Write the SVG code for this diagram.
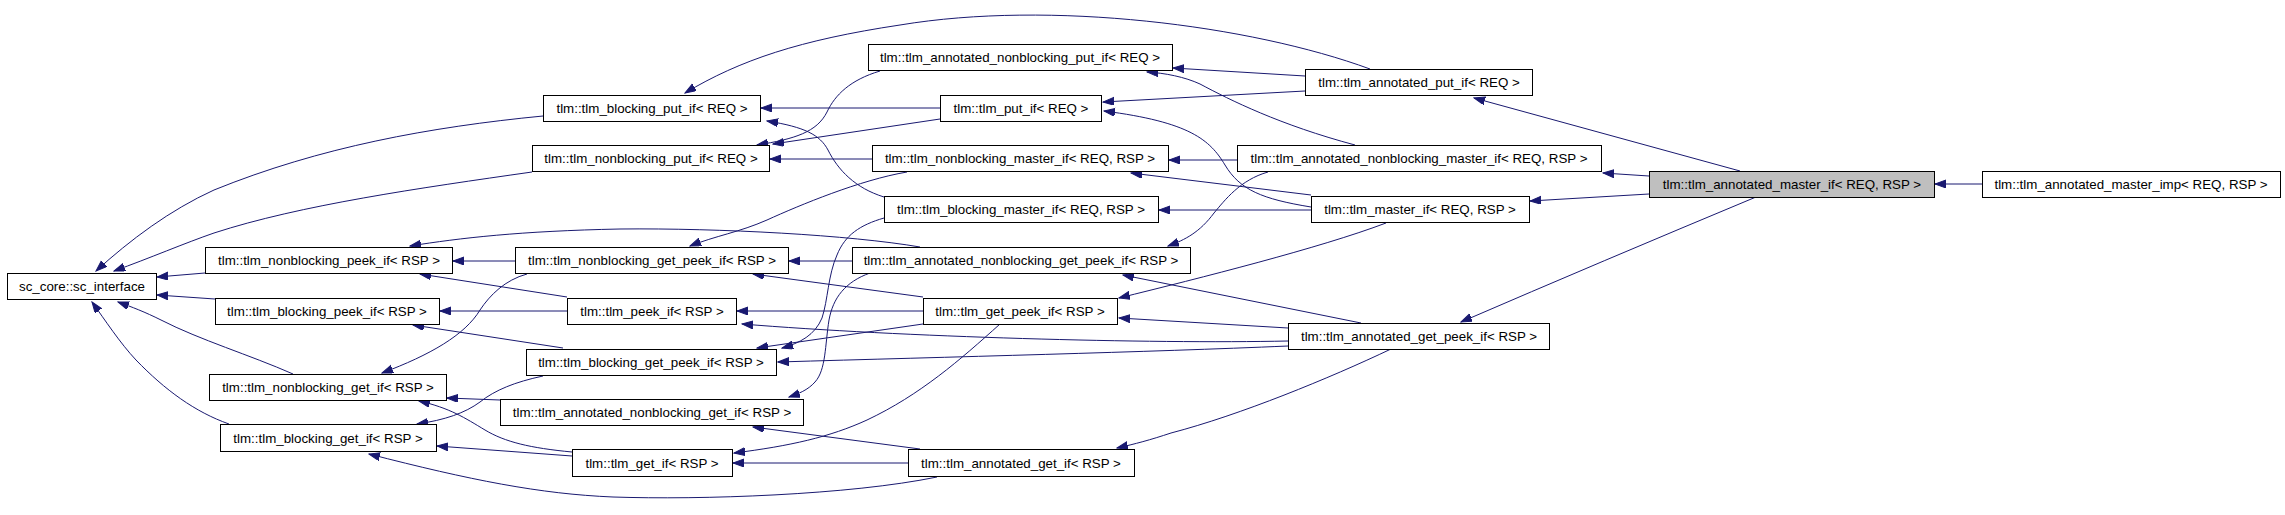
<svg xmlns="http://www.w3.org/2000/svg" width="2285" height="515" viewBox="0 0 2285 515">
<style>
.n rect{fill:#ffffff;stroke:#000000;stroke-width:1}
.n.sel rect{fill:#bfbfbf}
.n text{font-family:"Liberation Sans",Arial,Helvetica,sans-serif;font-size:13.33px;fill:#000000;text-anchor:middle}
.e path{fill:none;stroke:#191970;stroke-width:1;marker-end:url(#ah)}
</style>
<defs>
<marker id="ah" markerUnits="userSpaceOnUse" markerWidth="12" markerHeight="9" refX="11" refY="4" orient="auto">
<path d="M0,0 L11,4 L0,8 Z" fill="#191970" stroke="#191970" stroke-width="1"/>
</marker>
</defs>
<rect width="2285" height="515" fill="#ffffff"/>
<g id="connectors" class="e">
<path d="M1982,184 L1935,184"/>
<path d="M1649,176 L1603,173"/>
<path d="M1649,194 L1530,201"/>
<path d="M1740,171 L1474,98"/>
<path d="M1756,197 Q1600,262 1461,322"/>
<path d="M1386,223 C1320,248 1200,278 1119,298"/>
<path d="M1311,210 L1159,210"/>
<path d="M1311,195 L1131,173"/>
<path d="M1311,207 C1262,199 1240,190 1225,165 C1210,140 1190,122 1104,111"/>
<path d="M1237,160 L1169,160"/>
<path d="M1355,145 C1280,125 1230,100 1200,84 C1185,77 1165,73 1147,72"/>
<path d="M1268,172 C1240,180 1225,200 1214,213 C1200,232 1185,240 1168,246"/>
<path d="M1305,76 L1173,68"/>
<path d="M1305,91 L1103,102"/>
<path d="M1370,69 C1250,25 1050,0 900,25 C800,40 740,60 685,93"/>
<path d="M852,261 L789,261"/>
<path d="M920,247 C850,235 720,228 620,229 C520,231 460,238 410,246"/>
<path d="M870,273 C845,282 833,298 829,320 C825,345 826,370 815,382 C808,390 798,394 789,397"/>
<path d="M884,218 C860,225 845,235 837,255 C828,275 828,300 822,318 C815,335 800,343 782,348"/>
<path d="M907,172 C860,180 800,205 767,220 C740,232 715,236 690,246"/>
<path d="M872,159 L770,159"/>
<path d="M940,108 L761,108"/>
<path d="M940,119 L773,144"/>
<path d="M880,71 C850,80 835,95 827,112 C817,132 795,139 757,145"/>
<path d="M884,197 C855,188 838,170 828,150 C820,135 805,127 767,121"/>
<path d="M923,311 L737,311"/>
<path d="M923,297 L753,274"/>
<path d="M923,324 L757,348"/>
<path d="M1000,324 C960,360 920,395 867,420 C830,437 790,446 734,453"/>
<path d="M1361,323 L1123,275"/>
<path d="M1288,328 L1119,318"/>
<path d="M1288,341 C1150,344 900,337 742,324"/>
<path d="M1288,346 C1150,352 950,357 778,362"/>
<path d="M1391,349 C1330,378 1240,415 1171,433 C1150,440 1135,444 1117,448"/>
<path d="M908,463 L733,463"/>
<path d="M920,449 L753,427"/>
<path d="M937,477 C850,495 700,500 613,497 C540,494 470,480 369,454"/>
<path d="M572,456 L437,446"/>
<path d="M572,452 C530,448 505,442 485,430 C465,418 450,408 419,401"/>
<path d="M500,400 L447,398"/>
<path d="M563,348 L413,325"/>
<path d="M543,376 C515,382 495,390 480,402 C465,413 445,420 417,424"/>
<path d="M515,261 L453,261"/>
<path d="M527,274 C505,280 490,295 480,310 C465,335 430,355 382,373"/>
<path d="M567,311 L440,311"/>
<path d="M567,297 L420,274"/>
<path d="M543,116 C430,127 320,147 214,190 C170,210 130,240 96,271"/>
<path d="M532,172 C420,188 300,205 214,233 C185,243 150,258 114,271"/>
<path d="M205,273 L157,277"/>
<path d="M215,299 L157,295"/>
<path d="M293,374 C250,355 200,340 161,320 C145,312 132,307 118,302"/>
<path d="M229,424 C195,412 165,390 136,360 C120,343 105,320 92,302"/>
</g>
<g id="sc_interface" class="n"><rect x="7.5" y="273.5" width="149" height="26"/><text x="82" y="291">sc_core::sc_interface</text></g>
<g id="nonblocking_peek_if" class="n"><rect x="205.5" y="247.5" width="247" height="26"/><text x="329" y="265">tlm::tlm_nonblocking_peek_if&lt; RSP &gt;</text></g>
<g id="blocking_peek_if" class="n"><rect x="215.5" y="298.5" width="224" height="26"/><text x="327" y="316">tlm::tlm_blocking_peek_if&lt; RSP &gt;</text></g>
<g id="nonblocking_get_if" class="n"><rect x="209.5" y="374.5" width="237" height="26"/><text x="328" y="392">tlm::tlm_nonblocking_get_if&lt; RSP &gt;</text></g>
<g id="blocking_get_if" class="n"><rect x="220.5" y="424.5" width="216" height="27"/><text x="328" y="442.5">tlm::tlm_blocking_get_if&lt; RSP &gt;</text></g>
<g id="blocking_put_if" class="n"><rect x="543.5" y="95.5" width="217" height="26"/><text x="652" y="113">tlm::tlm_blocking_put_if&lt; REQ &gt;</text></g>
<g id="nonblocking_put_if" class="n"><rect x="532.5" y="145.5" width="237" height="26"/><text x="651" y="163">tlm::tlm_nonblocking_put_if&lt; REQ &gt;</text></g>
<g id="nonblocking_get_peek_if" class="n"><rect x="515.5" y="247.5" width="273" height="26"/><text x="652" y="265">tlm::tlm_nonblocking_get_peek_if&lt; RSP &gt;</text></g>
<g id="peek_if" class="n"><rect x="567.5" y="298.5" width="169" height="26"/><text x="652" y="316">tlm::tlm_peek_if&lt; RSP &gt;</text></g>
<g id="blocking_get_peek_if" class="n"><rect x="526.5" y="349.5" width="250" height="26"/><text x="651" y="367">tlm::tlm_blocking_get_peek_if&lt; RSP &gt;</text></g>
<g id="annotated_nonblocking_get_if" class="n"><rect x="500.5" y="399.5" width="303" height="26"/><text x="652" y="417">tlm::tlm_annotated_nonblocking_get_if&lt; RSP &gt;</text></g>
<g id="get_if" class="n"><rect x="572.5" y="449.5" width="160" height="27"/><text x="652" y="467.5">tlm::tlm_get_if&lt; RSP &gt;</text></g>
<g id="annotated_nonblocking_put_if" class="n"><rect x="868.5" y="44.5" width="304" height="26"/><text x="1020" y="62">tlm::tlm_annotated_nonblocking_put_if&lt; REQ &gt;</text></g>
<g id="put_if" class="n"><rect x="940.5" y="95.5" width="161" height="26"/><text x="1021" y="113">tlm::tlm_put_if&lt; REQ &gt;</text></g>
<g id="nonblocking_master_if" class="n"><rect x="872.5" y="145.5" width="296" height="26"/><text x="1020" y="163">tlm::tlm_nonblocking_master_if&lt; REQ, RSP &gt;</text></g>
<g id="blocking_master_if" class="n"><rect x="884.5" y="196.5" width="274" height="26"/><text x="1021" y="214">tlm::tlm_blocking_master_if&lt; REQ, RSP &gt;</text></g>
<g id="annotated_nonblocking_get_peek_if" class="n"><rect x="852.5" y="247.5" width="338" height="26"/><text x="1021" y="265">tlm::tlm_annotated_nonblocking_get_peek_if&lt; RSP &gt;</text></g>
<g id="get_peek_if" class="n"><rect x="923.5" y="298.5" width="194" height="26"/><text x="1020" y="316">tlm::tlm_get_peek_if&lt; RSP &gt;</text></g>
<g id="annotated_get_if" class="n"><rect x="908.5" y="449.5" width="226" height="27"/><text x="1021" y="467.5">tlm::tlm_annotated_get_if&lt; RSP &gt;</text></g>
<g id="annotated_put_if" class="n"><rect x="1305.5" y="69.5" width="227" height="26"/><text x="1419" y="87">tlm::tlm_annotated_put_if&lt; REQ &gt;</text></g>
<g id="annotated_nonblocking_master_if" class="n"><rect x="1237.5" y="145.5" width="364" height="26"/><text x="1419" y="163">tlm::tlm_annotated_nonblocking_master_if&lt; REQ, RSP &gt;</text></g>
<g id="master_if" class="n"><rect x="1311.5" y="196.5" width="218" height="26"/><text x="1420" y="214">tlm::tlm_master_if&lt; REQ, RSP &gt;</text></g>
<g id="annotated_get_peek_if" class="n"><rect x="1288.5" y="323.5" width="261" height="26"/><text x="1419" y="341">tlm::tlm_annotated_get_peek_if&lt; RSP &gt;</text></g>
<g id="annotated_master_if" class="n sel"><rect x="1649.5" y="171.5" width="285" height="26"/><text x="1792" y="189">tlm::tlm_annotated_master_if&lt; REQ, RSP &gt;</text></g>
<g id="annotated_master_imp" class="n"><rect x="1982.5" y="171.5" width="298" height="26"/><text x="2131" y="189">tlm::tlm_annotated_master_imp&lt; REQ, RSP &gt;</text></g>
</svg>
